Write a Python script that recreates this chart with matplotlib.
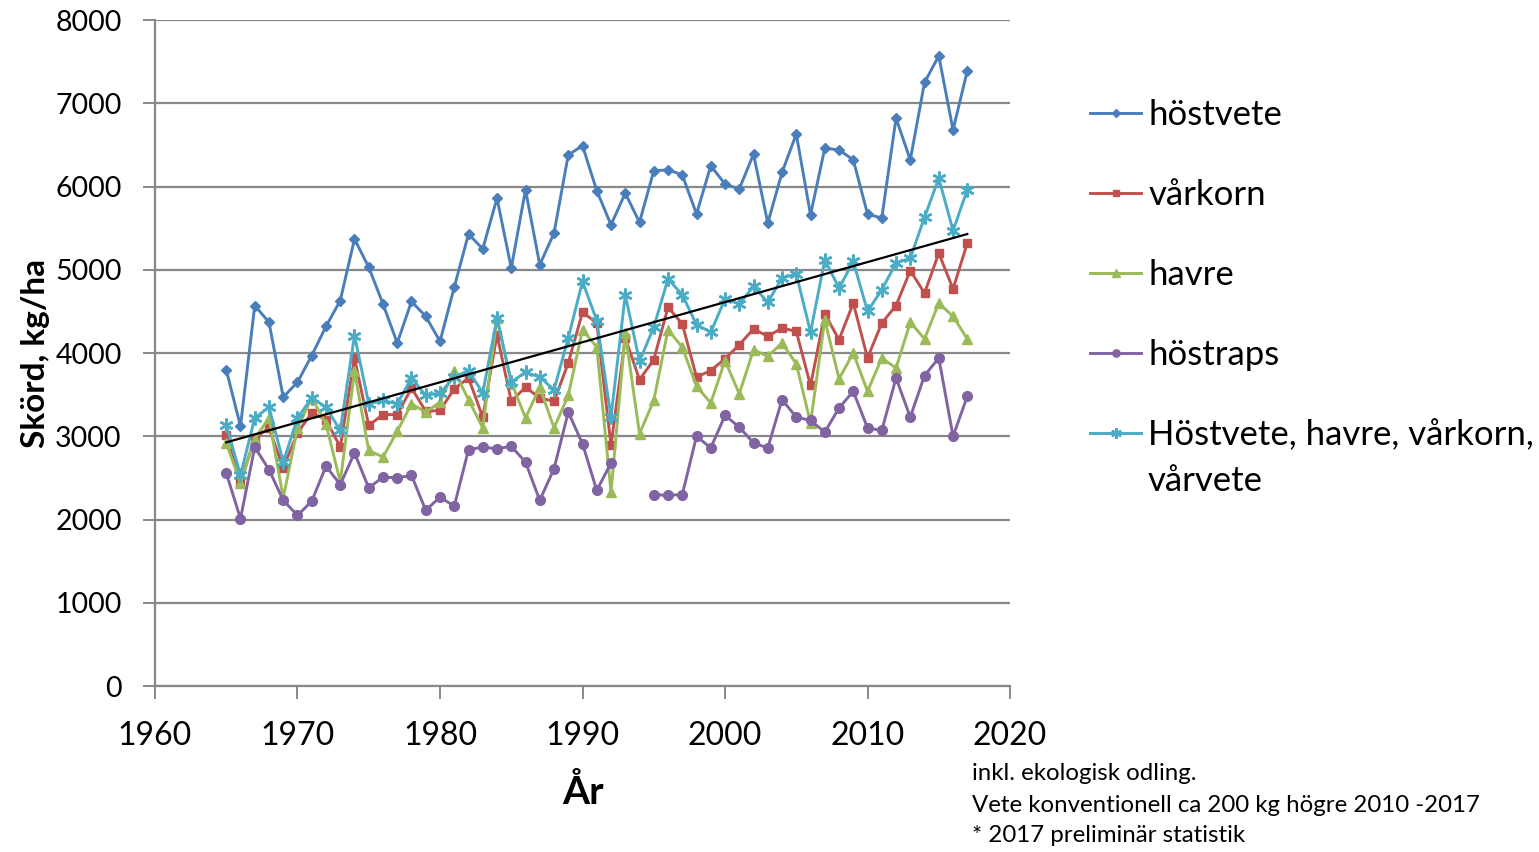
import numpy as np
import matplotlib
matplotlib.use("Agg")
import matplotlib.pyplot as plt

plt.rcParams['font.family'] = ['Lato', 'DejaVu Sans']

years = np.arange(1965, 2018)

hostvete = [3800, 3120, 4570, 4370, 3470, 3650, 3970, 4320, 4630, 5370,
            5030, 4590, 4120, 4620, 4440, 4140, 4790, 5430, 5250, 5860,
            5020, 5960, 5060, 5440, 6380, 6490, 5950, 5540, 5920, 5570,
            6190, 6200, 6140, 5670, 6250, 6030, 5970, 6390, 5560, 6170,
            6630, 5660, 6460, 6440, 6320, 5670, 5620, 6820, 6320, 7250,
            7570, 6680, 7390]

varkorn = [3010, 2440, 2980, 3100, 2620, 3040, 3280, 3200, 2870, 3940,
           3130, 3260, 3260, 3580, 3300, 3310, 3570, 3700, 3230, 4220,
           3420, 3590, 3460, 3420, 3880, 4490, 4360, 2890, 4180, 3680,
           3920, 4550, 4350, 3710, 3790, 3930, 4100, 4290, 4200, 4300,
           4260, 3610, 4470, 4160, 4600, 3940, 4360, 4570, 4990, 4720,
           5200, 4770, 5320]

havre = [2920, 2440, 2970, 3220, 2260, 3100, 3460, 3150, 2450, 3780,
         2830, 2750, 3060, 3390, 3290, 3410, 3790, 3440, 3100, 4420,
         3650, 3220, 3590, 3100, 3490, 4280, 4070, 2330, 4240, 3030,
         3430, 4280, 4070, 3600, 3400, 3910, 3510, 4040, 3960, 4120,
         3870, 3160, 4400, 3690, 4000, 3540, 3940, 3820, 4370, 4170,
         4600, 4440, 4170]

# no data for höstraps 1993-1994
hostraps = [2560, 2010, 2870, 2600, 2230, 2050, 2220, 2640, 2420, 2800,
            2380, 2510, 2500, 2530, 2110, 2270, 2160, 2840, 2870, 2850,
            2880, 2690, 2230, 2610, 3290, 2910, 2350, 2680, np.nan, np.nan,
            2300, 2290, 2300, 3000, 2860, 3250, 3110, 2920, 2860, 3440,
            3230, 3190, 3050, 3340, 3540, 3100, 3070, 3700, 3230, 3730,
            3940, 3000, 3480]

samtliga = [3140, 2530, 3220, 3350, 2690, 3220, 3460, 3350, 3070, 4210,
            3390, 3430, 3390, 3700, 3490, 3520, 3710, 3790, 3520, 4420,
            3650, 3770, 3710, 3560, 4180, 4860, 4390, 3230, 4700, 3900,
            4310, 4890, 4700, 4340, 4250, 4650, 4590, 4800, 4610, 4900,
            4950, 4250, 5120, 4780, 5100, 4500, 4760, 5080, 5140, 5630,
            6100, 5470, 5960]

fig = plt.figure(figsize=(15.39, 8.52), dpi=100)
ax = fig.add_axes([0.1007, 0.1948, 0.5556, 0.7817])

lw = 2.1
ax.plot(years, hostvete, color="#4A7EBB", lw=lw, marker="D", ms=5.5, label="höstvete")
ax.plot(years, varkorn, color="#C0504D", lw=lw, marker="s", ms=5.5, label="vårkorn")
ax.plot(years, havre, color="#9BBB59", lw=lw, marker="^", ms=7, label="havre")
ax.plot(years, hostraps, color="#8064A2", lw=lw, marker="o", ms=7, label="höstraps")
ax.plot(years, samtliga, color="#4BACC6", lw=lw, marker=(6, 2, 0), ms=10, mew=1.8,
        label="Höstvete, havre, vårkorn,")

# linear trend
k, m = np.polyfit(years, samtliga, 1)
ax.plot(years[[0, -1]], k * years[[0, -1]] + m, color="black", lw=1.6)

ax.set_xlim(1960, 2020)
ax.set_ylim(0, 8000)
ax.set_xticks(range(1960, 2021, 10))
ax.set_yticks(range(0, 8001, 1000))
ax.yaxis.grid(True, color="#888888", lw=1.6)
ax.set_axisbelow(True)
for s in ["top", "right"]:
    ax.spines[s].set_visible(False)
for s in ["left", "bottom"]:
    ax.spines[s].set_color("#888888")
    ax.spines[s].set_linewidth(1.6)
ax.tick_params(axis="both", color="#888888", width=1.4, length=9)
ax.tick_params(axis="y", labelsize=20.5, pad=15)
ax.tick_params(axis="x", labelsize=23, pad=16)

ax.set_ylabel("Skörd, kg/ha", fontsize=24, fontweight="bold")
ax.yaxis.set_label_coords(-0.123, 0.5)
ax.set_xlabel("År", fontsize=28, fontweight="bold", labelpad=17)

leg = fig.legend(loc="upper left", bbox_to_anchor=(1059 / 1539, 1 - 68 / 852),
                 frameon=False, fontsize=25, handlelength=1.47, handletextpad=0.2,
                 labelspacing=1.38, markerscale=0.75)
fig.text(1148 / 1539, 1 - 481 / 852, "vårvete", fontsize=25, va="center")

fig.text(972 / 1539, 1 - 773 / 852, "inkl. ekologisk odling.", fontsize=17.3, va="center")
fig.text(972 / 1539, 1 - 805 / 852, "Vete konventionell ca 200 kg högre 2010 -2017",
         fontsize=17.3, va="center")
fig.text(972 / 1539, 1 - 836 / 852, "* 2017 preliminär statistik", fontsize=17.3, va="center")

fig.savefig("out.png", dpi=100)
